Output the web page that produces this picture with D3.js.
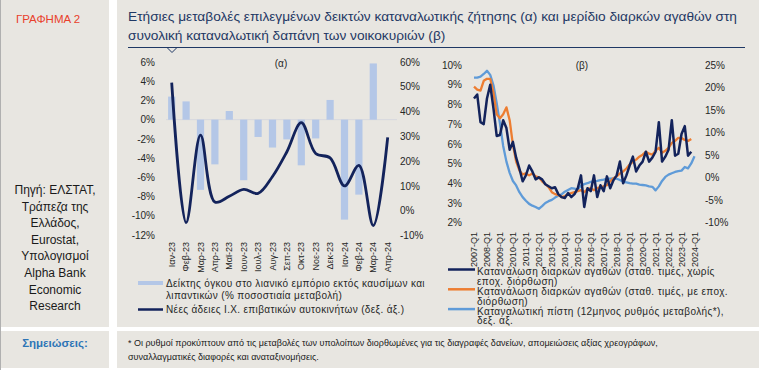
<!DOCTYPE html>
<html lang="el">
<head>
<meta charset="utf-8">
<title>Γράφημα 2</title>
<script src="https://d3js.org/d3.v7.min.js"></script>
<style>
body { margin: 0; background: #fff; }
text { font-family: "Liberation Sans", Arial, sans-serif; }
.tick text { font-size: 10px; fill: #262626; }
</style>
</head>
<body>
<div id="chart"></div>
<script>
// (α) monthly data
var months = ["Ιαν-23","Φεβ-23","Μαρ-23","Απρ-23","Μαϊ-23","Ιουν-23","Ιουλ-23","Αυγ-23",
              "Σεπ-23","Οκτ-23","Νοε-23","Δεκ-23","Ιαν-24","Φεβ-24","Μαρ-24","Απρ-24"];
var retailVolume = [2.4, 1.9, -7.3, -4.65, 0.9, -6.3, -1.8, -2.9, -2.05, -4.75, -1.95, 2.05, -10.4, -7.8, 5.85, null];
var newCarLicences = [51.7, -4.8, 30.5, 3.5, 5.8, 8.6, 7.0, 13.8, 23.8, 35.5, 23.1, 21.3, 10.0, 18.3, -6.0, 29.6];

// (β) quarterly data, 2007-Q1 ... 2024-Q1
var yearTicks = ["2007-Q1","2008-Q1","2009-Q1","2010-Q1","2011-Q1","2012-Q1","2013-Q1","2014-Q1","2015-Q1",
                 "2016-Q1","2017-Q1","2018-Q1","2019-Q1","2020-Q1","2021-Q1","2022-Q1","2023-Q1","2024-Q1"];
var durableNsa = [8.3, 8.5, 7.1, 7.0,  8.3, 9.0, 7.8, 6.4,  6.45, 7.2, 6.8, 5.7,  6.1, 5.3, 4.75, 4.1,
                  4.4, 4.9, 4.6, 4.2,  4.3, 4.2, 3.95, 3.85,  3.75, 3.8, 3.45, 3.3,  3.25, 3.5, 3.3, 3.45,
                  3.75, 4.4, 2.8, 3.75,  3.6, 4.4, 3.3, 3.9,  3.6, 4.35, 3.75, 4.15,  4.4, 5.1, 4.0, 4.4,
                  4.9, 5.35, 4.6, 4.9,  5.1, 5.6, 5.1, 5.3,  5.6, 7.1, 5.1, 5.35,  5.7, 7.2, 5.4, 5.5,
                  6.5, 6.9, 5.4, 5.6];
var durableSa = [8.9, 8.75, 8.7, 9.2,  9.3, 9.3, 8.6, 7.5,  7.3, 7.5, 7.85, 7.2,  5.95, 5.1, 4.65, 4.45,
                 4.5, 4.4, 4.5, 4.35,  4.3, 4.1, 3.95, 3.8,  3.55, 3.45, 3.4, 3.3,  3.35, 3.45, 3.5, 3.55,
                 3.6, 3.65, 3.55, 3.7,  3.75, 3.65, 3.75, 3.8,  3.85, 3.9, 4.1, 4.25,  4.35, 4.5, 4.6, 4.75,
                 4.95, 5.1, 5.2, 5.35,  5.45, 5.6, 5.5, 5.45,  5.65, 5.8, 5.55, 5.65,  5.8, 6.05, 6.15, 6.3,
                 6.3, 6.2, 6.15, 6.25];
var consumerCredit = [22.2, 22.2, 22.4, 23.0,  23.7, 22.8, 20.5, 16.5,  12.0, 7.0, 3.5, 1.0,  -0.8, -1.8, -3.3, -4.4,
                      -5.2, -5.9, -6.3, -6.6,  -7.0, -6.4, -5.7, -5.3,  -5.0, -4.5, -4.1, -3.8,  -3.2, -2.8, -2.4, -2.5,
                      -2.7, -1.8, -1.5, -1.3,  -1.0, -0.9, -0.8, -0.6,  -0.5, -0.3, -0.3, -0.25,  -0.3, -0.6, -1.0, -1.1,
                      -1.3, -1.4, -1.4, -1.6,  -1.7, -1.8, -2.0, -2.1,  -2.9, -2.0, -0.8, 0.1,  0.6, 0.9, 1.2, 1.4,
                      1.5, 2.3, 2.0, 3.1,  4.7];

var sourceLines = ["Πηγή: ΕΛΣΤΑΤ,", "Τράπεζα της", "Ελλάδος,", "Eurostat,", "Υπολογισμοί", "Alpha Bank", "Economic", "Research"];

var navy = "#13235b", barBlue = "#b4c7e7", orange = "#ed7d31", lightBlue = "#5f9bd8", bg = "#e8e6e1";

var svg = d3.select("#chart").append("svg").attr("width", 759).attr("height", 370);

// panels
svg.append("rect").attr("width", 759).attr("height", 370).attr("fill", "#fff");
svg.append("rect").attr("x", 0).attr("y", 0).attr("width", 109).attr("height", 327).attr("fill", bg);
svg.append("rect").attr("x", 117).attr("y", 0).attr("width", 642).attr("height", 327).attr("fill", bg);
svg.append("rect").attr("x", 0).attr("y", 331).attr("width", 109).attr("height", 37).attr("fill", bg);
svg.append("rect").attr("x", 117).attr("y", 331).attr("width", 642).attr("height", 37).attr("fill", bg);
svg.append("line").attr("x1", 0.5).attr("x2", 0.5).attr("y1", 0).attr("y2", 370).attr("stroke", "#b0b0b0");

svg.append("text").attr("x", 48).attr("y", 23).attr("text-anchor", "middle")
  .attr("font-size", 11.5).attr("fill", "#e8412c").text("ΓΡΑΦΗΜΑ 2");

svg.append("g").selectAll("text").data(sourceLines).enter().append("text")
  .attr("x", 55).attr("y", function(d, i) { return 194 + i * 16.6; })
  .attr("text-anchor", "middle").attr("font-size", 12).attr("fill", "#1a1a1a").text(function(d) { return d; });

svg.append("text").attr("x", 55).attr("y", 347).attr("text-anchor", "middle")
  .attr("font-size", 11.5).attr("font-weight", "bold").attr("fill", "#2e75b6").text("Σημειώσεις:");

// title
var title = svg.append("text").attr("font-size", 13.7).attr("fill", "#1f3864");
title.append("tspan").attr("x", 128).attr("y", 21)
  .text("Ετήσιες  μεταβολές επιλεγμένων δεικτών καταναλωτικής ζήτησης  (α) και μερίδιο  διαρκών αγαθών στη");
title.append("tspan").attr("x", 128).attr("y", 40)
  .text("συνολική καταναλωτική δαπάνη των νοικοκυριών (β)");
svg.append("path").attr("d", "M128,47.5H745M167,47.5l5,5l5,-5").attr("fill", "none")
  .attr("stroke", "#1f3864").attr("stroke-width", 1);

// notes
svg.append("text").attr("x", 128).attr("y", 346).attr("font-size", 9).attr("fill", "#1a1a1a")
  .text("* Οι ρυθμοί προκύπτουν από τις μεταβολές των υπολοίπων διορθωμένες για τις διαγραφές δανείων, απομειώσεις αξίας χρεογράφων,");
svg.append("text").attr("x", 128).attr("y", 360).attr("font-size", 9).attr("fill", "#1a1a1a")
  .text("συναλλαγματικές διαφορές και αναταξινομήσεις.");

// ---------- chart (α) ----------
var xA = d3.scaleBand().domain(months).range([164.5, 394.9]).paddingInner(0.5).paddingOuter(0.25);
var yA = d3.scaleLinear().domain([-12, 6]).range([235, 62]);
var yA2 = d3.scaleLinear().domain([-10, 60]).range([235.5, 62]);

svg.append("g").attr("transform", "translate(158,0)")
  .call(d3.axisLeft(yA).tickValues(d3.range(-12, 7, 2)).tickFormat(function(d) { return d + "%"; }).tickSize(0).tickPadding(3))
  .call(function(g) { g.select(".domain").remove(); });
svg.append("g").attr("transform", "translate(397,0)")
  .call(d3.axisRight(yA2).tickValues(d3.range(-10, 61, 10)).tickFormat(function(d) { return d + "%"; }).tickSize(0).tickPadding(3))
  .call(function(g) { g.select(".domain").remove(); });

svg.append("line").attr("x1", 166).attr("x2", 397).attr("y1", yA(0)).attr("y2", yA(0))
  .attr("stroke", "#d6d8de").attr("stroke-width", 1);

svg.append("g").selectAll("rect").data(months).enter()
  .filter(function(d, i) { return retailVolume[i] !== null; })
  .append("rect")
  .attr("x", function(d) { return xA(d); })
  .attr("width", xA.bandwidth())
  .attr("y", function(d) { var v = retailVolume[months.indexOf(d)]; return yA(Math.max(0, v)); })
  .attr("height", function(d) { var v = retailVolume[months.indexOf(d)]; return Math.abs(yA(v) - yA(0)); })
  .attr("fill", barBlue);

var lineA = d3.line()
  .x(function(d, i) { return xA(months[i]) + xA.bandwidth() / 2; })
  .y(function(d) { return yA2(d); })
  .curve(d3.curveCatmullRom);
svg.append("path").datum(newCarLicences).attr("d", lineA)
  .attr("fill", "none").attr("stroke", navy).attr("stroke-width", 2.8);

svg.append("text").attr("x", 281).attr("y", 67).attr("text-anchor", "middle").attr("font-size", 10)
  .attr("fill", "#262626").text("(α)");

svg.append("g").selectAll("text").data(months).enter().append("text")
  .attr("transform", function(d) { return "translate(" + (xA(d) + xA.bandwidth() / 2) + ",242) rotate(-90)"; })
  .attr("dy", "0.35em").attr("text-anchor", "end").attr("font-size", 9).attr("fill", "#262626")
  .text(function(d) { return d; });

// legend (α)
var legA = svg.append("g").attr("font-size", 10).attr("fill", "#262626").attr("letter-spacing", 0.35);
legA.append("line").attr("x1", 138).attr("x2", 163).attr("y1", 283).attr("y2", 283).attr("stroke", barBlue).attr("stroke-width", 4);
legA.append("text").attr("x", 166).attr("y", 287).text("Δείκτης όγκου στο λιανικό εμπόριο εκτός καυσίμων και");
legA.append("text").attr("x", 166).attr("y", 299).text("λιπαντικών (% ποσοστιαία μεταβολή)");
legA.append("line").attr("x1", 138).attr("x2", 163).attr("y1", 309.5).attr("y2", 309.5).attr("stroke", navy).attr("stroke-width", 2.5);
legA.append("text").attr("x", 166).attr("y", 313).text("Νέες άδειες Ι.Χ. επιβατικών αυτοκινήτων (δεξ. άξ.)");

// ---------- chart (β) ----------
var xB = d3.scaleLinear().domain([0, 68]).range([474, 694.5]);
var yB = d3.scaleLinear().domain([2, 10]).range([222.7, 65]);
var yB2 = d3.scaleLinear().domain([-10, 25]).range([222.3, 65]);

svg.append("g").attr("transform", "translate(465,0)")
  .call(d3.axisLeft(yB).tickValues(d3.range(2, 11, 1)).tickFormat(function(d) { return d + "%"; }).tickSize(0).tickPadding(3))
  .call(function(g) { g.select(".domain").remove(); });
svg.append("g").attr("transform", "translate(702,0)")
  .call(d3.axisRight(yB2).tickValues(d3.range(-10, 26, 5)).tickFormat(function(d) { return d + "%"; }).tickSize(0).tickPadding(3))
  .call(function(g) { g.select(".domain").remove(); });

function qLine(scale) {
  return d3.line().x(function(d, i) { return xB(i); }).y(function(d) { return scale(d); });
}
svg.append("path").datum(consumerCredit).attr("d", qLine(yB2))
  .attr("fill", "none").attr("stroke", lightBlue).attr("stroke-width", 2.3).attr("stroke-linejoin", "round");
svg.append("path").datum(durableSa).attr("d", qLine(yB))
  .attr("fill", "none").attr("stroke", orange).attr("stroke-width", 2.3).attr("stroke-linejoin", "round");
svg.append("path").datum(durableNsa).attr("d", qLine(yB))
  .attr("fill", "none").attr("stroke", navy).attr("stroke-width", 2.5).attr("stroke-linejoin", "round");

svg.append("text").attr("x", 582).attr("y", 69).attr("text-anchor", "middle").attr("font-size", 10)
  .attr("fill", "#262626").text("(β)");

svg.append("g").selectAll("text").data(yearTicks).enter().append("text")
  .attr("transform", function(d, i) { return "translate(" + xB(i * 4) + ",232) rotate(-90)"; })
  .attr("dy", "0.35em").attr("text-anchor", "end").attr("font-size", 9).attr("fill", "#262626")
  .text(function(d) { return d; });

// legend (β)
var legB = svg.append("g").attr("font-size", 10).attr("fill", "#262626").attr("letter-spacing", 0.4);
var legBItems = [
  { color: navy, lines: ["Κατανάλωση διαρκών αγαθών (σταθ. τιμές, χωρίς", "εποχ. διόρθωση)"] },
  { color: orange, lines: ["Κατανάλωση διαρκών αγαθών (σταθ. τιμές, με εποχ.", "διόρθωση)"] },
  { color: lightBlue, lines: ["Καταναλωτική πίστη (12μηνος ρυθμός μεταβολής*),", "δεξ. άξ."] }
];
legBItems.forEach(function(item, k) {
  var y0 = 269.5 + k * 19.8;
  legB.append("line").attr("x1", 448).attr("x2", 475).attr("y1", y0).attr("y2", y0)
    .attr("stroke", item.color).attr("stroke-width", 2.5);
  item.lines.forEach(function(t, j) {
    legB.append("text").attr("x", 477).attr("y", y0 + 5.5 + j * 9.8).text(t);
  });
});
</script>
</body>
</html>
